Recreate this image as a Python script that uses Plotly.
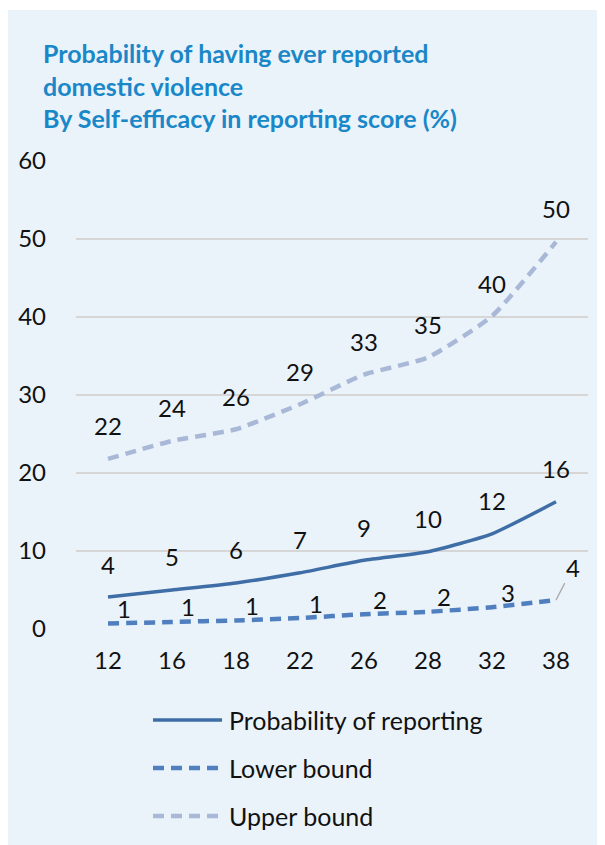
import plotly.graph_objects as go

scores = ["12", "16", "18", "22", "26", "28", "32", "38"]
probability = [4.1, 5.0, 5.9, 7.2, 8.8, 9.9, 12.2, 16.3]
lower_bound = [0.7, 0.9, 1.1, 1.4, 1.9, 2.2, 2.8, 3.7]
upper_bound = [21.8, 24.1, 25.6, 28.8, 32.6, 34.8, 40.1, 49.6]

title_lines = [
    "Probability of having ever reported",
    "domestic violence",
    "By Self-efficacy in reporting score (%)",
]

FONT = "Lato"
BG = "#EAF3FA"
TXT = "#111111"
FS = 24

fig = go.Figure()

series = [
    ("Probability of reporting", probability, "#3F6EA6", "solid", 3.5),
    ("Lower bound", lower_bound, "#4F7FBE", "11px,7px", 4.5),
    ("Upper bound", upper_bound, "#AAB8D8", "11px,7px", 4.5),
]
for name, vals, color, dash, width in series:
    fig.add_trace(go.Scatter(
        x=scores, y=vals, name=name, mode="lines", showlegend=False,
        line=dict(color=color, dash=dash, width=width, shape="spline", smoothing=0.5),
    ))

# data labels (x given as category index)
for vals in (probability, upper_bound):
    for k, v in enumerate(vals):
        fig.add_annotation(x=k, y=v, text=f"{v:.0f}", showarrow=False,
                           yshift=33, font=dict(size=FS, color=TXT, family=FONT))
for k, v in enumerate(lower_bound):
    if k == len(lower_bound) - 1:
        fig.add_annotation(x=k, y=v, text=f"{v:.0f}", showarrow=True,
                           arrowhead=0, arrowwidth=1.2, arrowcolor="#A6A6A6",
                           ax=17, ay=-33, standoff=0,
                           font=dict(size=FS, color=TXT, family=FONT))
    else:
        fig.add_annotation(x=k, y=v, text=f"{v:.0f}", showarrow=False,
                           xshift=16, yshift=15, font=dict(size=FS, color=TXT, family=FONT))

# legend below the chart, one row per series
for row, (name, vals, color, dash, width) in enumerate(series):
    ly = -(91 + 48 * row) / 469
    fig.add_shape(type="line", xref="paper", yref="paper", x0=77 / 512, x1=146 / 512,
                  y0=ly, y1=ly, line=dict(color=color, dash=dash, width=width))
    fig.add_annotation(text=name, xref="paper", yref="paper", x=151 / 512, y=ly,
                       xanchor="left", yanchor="middle", showarrow=False,
                       font=dict(size=25, color=TXT, family=FONT))

fig.add_annotation(
    text="<br>".join(title_lines), xref="paper", yref="paper",
    x=-35 / 512, y=1 + 124 / 469, xanchor="left", yanchor="top", align="left",
    showarrow=False,
    font=dict(size=25, color="#1A87C8", family=FONT, weight="bold"),
)

# thin white strip at the very top
fig.add_shape(type="rect", xref="paper", yref="paper", x0=-0.3, x1=1.1,
              y0=1 + 150 / 469, y1=1 + 155 / 469, fillcolor="white", line_width=0,
              layer="below")

fig.update_layout(
    width=597, height=837,
    margin=dict(l=68, r=17, t=152, b=216),
    paper_bgcolor=BG, plot_bgcolor=BG,
    font=dict(family=FONT, size=FS, color=TXT),
    showlegend=False,
    xaxis=dict(type="category", range=[-0.5, 7.5], showgrid=False, zeroline=False,
               showline=False, ticks="", ticklabelstandoff=15, automargin=False),
    yaxis=dict(range=[0, 60.1], dtick=10, gridcolor="#D6D6D6", gridwidth=1.5,
               zeroline=False, showline=False, ticks="", ticklabelstandoff=29,
               automargin=False),
)

fig.write_html("out.html")
